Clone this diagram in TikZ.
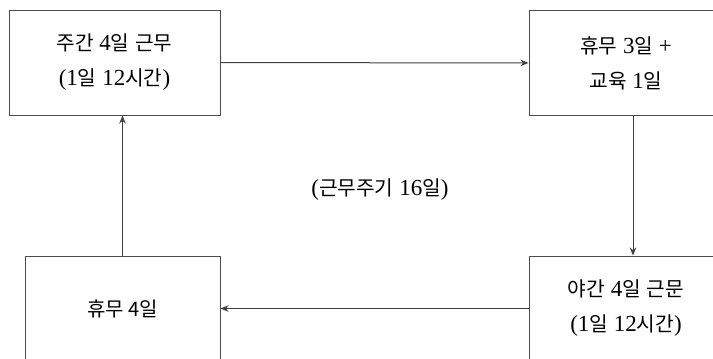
\documentclass[tikz,border=0pt]{standalone}
\usepackage{fontspec}
\setmainfont{Liberation Serif}
\newfontfamily\kr[Scale=0.88]{Noto Sans CJK KR}
\newfontfamily\krfull{Noto Sans CJK KR}
\usetikzlibrary{arrows.meta}
\tikzset{
  box/.style={draw=black!70, line width=1pt, minimum width=#1, minimum height=105pt, inner sep=0pt, align=center,
    font=\fontsize{23}{35}\selectfont},
  conn/.style={draw=black!75, line width=1pt, -{Stealth[length=8pt,width=6.5pt]}},
}
\begin{document}
\begin{tikzpicture}[x=1pt,y=-1pt]
\useasboundingbox (0,0) rectangle (713,359);
\clip (0,0) rectangle (713,359);
\node[box=211pt] (tl) at (114.5,62.5) {{\kr 주간} 4{\kr 일} {\kr 근무}\\(1{\kr 일} 12{\kr 시간})};
\node[box=194pt] (tr) at (626,63) {{\kr 휴무} 3{\kr 일} +\\{\kr 교육} 1{\kr 일}};
\node[box=195pt, font=\krfull\fontsize{20}{35}\selectfont] (bl) at (122.5,308.5) {휴무 4일};
\node[box=194pt] (br) at (626,308.5) {{\kr 야간} 4{\kr 일} {\kr 근문}\\(1{\kr 일} 12{\kr 시간})};
\node[font=\fontsize{23}{26}\selectfont] (mid) at (380,190) {({\kr 근무주기} 16{\kr 일})};
\draw[conn] (tl) -- (tr);
\draw[conn] ([xshift=7pt]tr.south) -- ([xshift=7pt]br.north);
\draw[conn] (br.west) -- (bl.east);
\draw[conn] (bl.north) -- (bl.north |- tl.south);
\end{tikzpicture}
\end{document}
